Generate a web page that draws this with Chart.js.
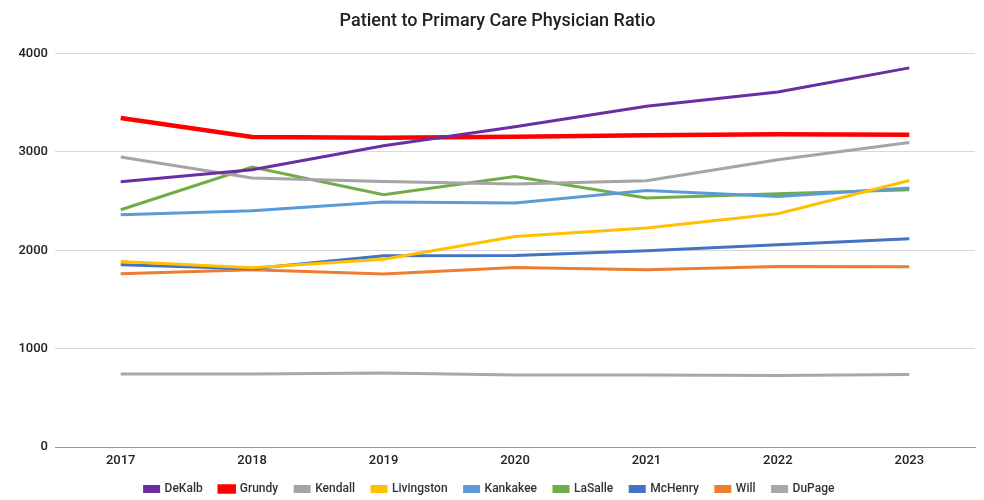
<!DOCTYPE html>
<html>
<head>
<meta charset="utf-8">
<script src="https://cdn.jsdelivr.net/npm/chart.js@4.4.0/dist/chart.umd.min.js"></script>
<style>
html,body{margin:0;padding:0;background:#fff;}
#wrap{width:984px;height:500px;position:relative;}
</style>
</head>
<body>
<div id="wrap"><canvas id="c" width="984" height="500"></canvas></div>
<script>
const years = ["2017","2018","2019","2020","2021","2022","2023"];
const yTicks = [0, 1000, 2000, 3000, 4000];
const DeKalb     = [2697, 2820, 3064, 3257, 3464, 3610, 3855];
const Grundy     = [3346, 3152, 3145, 3155, 3170, 3180, 3175];
const Kendall    = [2948, 2735, 2700, 2675, 2707, 2921, 3097];
const Livingston = [1886, 1822, 1910, 2140, 2226, 2371, 2710];
const Kankakee   = [2361, 2402, 2490, 2480, 2609, 2548, 2633];
const LaSalle    = [2412, 2847, 2565, 2751, 2531, 2575, 2616];
const McHenry    = [1852, 1812, 1944, 1948, 1995, 2056, 2117];
const Will       = [1761, 1802, 1758, 1825, 1802, 1835, 1832];
const DuPage     = [743, 743, 753, 733, 733, 728, 738];

const series = [
  ["DeKalb", DeKalb, "#6a2ea3", 3],
  ["Grundy", Grundy, "#ff0000", 4.5],
  ["Kendall", Kendall, "#a5a5a5", 3],
  ["Livingston", Livingston, "#ffc000", 3],
  ["Kankakee", Kankakee, "#5b9bd5", 3],
  ["LaSalle", LaSalle, "#70ad47", 3],
  ["McHenry", McHenry, "#4472c4", 3],
  ["Will", Will, "#ed7d31", 3],
  ["DuPage", DuPage, "#a8a8a8", 3]
];

const font = "Roboto, 'Liberation Sans', Arial, sans-serif";

const layoutFix = {
  id: 'layoutFix',
  beforeLayout(chart) {
    const lg = chart.legend;
    if (lg && !lg._patched) {
      const orig = lg.fit;
      lg.fit = function () { orig.call(this); this.height = 34; };
      lg._patched = true;
    }
  },
  afterLayout(chart) {
    if (chart.titleBlock) { chart.titleBlock.left += 10; chart.titleBlock.right += 10; }
    if (chart.legend) { chart.legend.left += 2; chart.legend.right += 2; }
  }
};

new Chart(document.getElementById('c'), {
  type: 'line',
  data: {
    labels: years,
    datasets: series.map(([name, vals, col, w]) => ({
      label: name, data: vals, borderColor: col, backgroundColor: col,
      borderWidth: w, pointRadius: 0, pointHoverRadius: 0, tension: 0, fill: false
    }))
  },
  plugins: [layoutFix],
  options: {
    responsive: false,
    animation: false,
    layout: { padding: { left: 0, right: 9, top: 0, bottom: 0 } },
    plugins: {
      title: {
        display: true, text: "Patient to Primary Care Physician Ratio",
        color: "#222", font: { family: font, size: 18, weight: '500' },
        padding: { top: 11, bottom: 21 }
      },
      legend: {
        position: 'bottom',
        labels: {
          boxWidth: 14, boxHeight: 5, padding: 17, color: "#333",
          font: { family: font, size: 12, weight: '500' }
        }
      },
      tooltip: { enabled: false }
    },
    scales: {
      x: {
        offset: true,
        afterFit: (s) => { s.height = 19; },
        grid: { display: false, drawTicks: false },
        border: { display: true, color: "#999", width: 1 },
        ticks: { color: "#222", font: { family: font, size: 13, weight: '500' }, padding: 6 }
      },
      y: {
        min: 0, max: 4000,
        afterFit: (s) => { s.width = 55; },
        afterBuildTicks: (s) => { s.ticks = yTicks.map(v => ({ value: v })); },
        grid: { color: "#d9d9d9", drawTicks: false },
        border: { display: false },
        ticks: {
          color: "#222", font: { family: font, size: 13, weight: '500' }, padding: 7,
          callback: (v) => String(v)
        }
      }
    }
  }
});
</script>
</body>
</html>
